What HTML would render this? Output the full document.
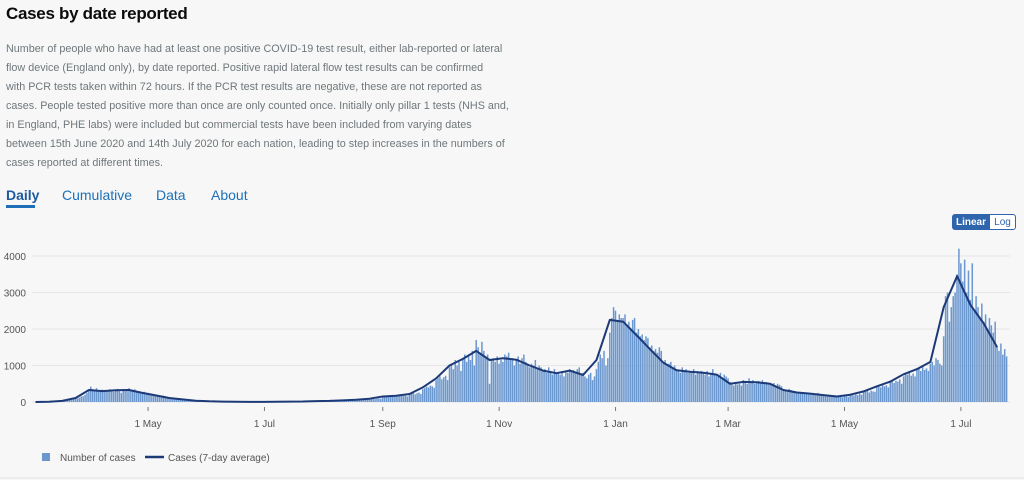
<!DOCTYPE html>
<html><head><meta charset="utf-8">
<style>
body{margin:0;width:1024px;height:480px;background:#f7f7f7;font-family:"Liberation Sans",sans-serif;overflow:hidden;position:relative}
h1{position:absolute;left:6px;top:4px;margin:0;font-size:17px;font-weight:bold;color:#0b0c0c;letter-spacing:-0.3px}
.desc{position:absolute;left:6px;top:40px;font-size:10.8px;line-height:19px;color:#6f777b}
.desc div{white-space:nowrap}
.tab{position:absolute;top:187px;font-size:14px;color:#1d70b8}
.tab.active{color:#1d5aa0;font-weight:bold}
#underline{position:absolute;left:6px;top:205px;width:29px;height:3px;background:#1d70b8}
.toggle{position:absolute;top:214px;height:16px;font-size:10px;line-height:16px;text-align:center;border:1px solid #2f65ad;box-sizing:border-box}
</style></head><body>
<h1>Cases by date reported</h1>
<div class="desc">
<div>Number of people who have had at least one positive COVID-19 test result, either lab-reported or lateral</div>
<div>flow device (England only), by date reported. Positive rapid lateral flow test results can be confirmed</div>
<div>with PCR tests taken within 72 hours. If the PCR test results are negative, these are not reported as</div>
<div>cases. People tested positive more than once are only counted once. Initially only pillar 1 tests (NHS and,</div>
<div>in England, PHE labs) were included but commercial tests have been included from varying dates</div>
<div>between 15th June 2020 and 14th July 2020 for each nation, leading to step increases in the numbers of</div>
<div>cases reported at different times.</div>
</div>
<div class="tab active" style="left:6px">Daily</div>
<div id="underline"></div>
<div class="tab" style="left:62px">Cumulative</div>
<div class="tab" style="left:156px">Data</div>
<div class="tab" style="left:211px">About</div>
<div class="toggle" style="left:952px;width:38px;background:#2f65ad;color:#fff;font-weight:bold;border-radius:3px 0 0 3px">Linear</div>
<div class="toggle" style="left:989px;width:27px;background:#fff;color:#2f65ad;border-radius:0 3px 3px 0">Log</div>
<svg id="chart" width="1024" height="480" style="position:absolute;left:0;top:0"></svg>
<script>
const yTicks=[0,1000,2000,3000,4000];
const xTickDays=[59,120,182,243,304,363,424,485];
const xTickLabels=["1 May","1 Jul","1 Sep","1 Nov","1 Jan","1 Mar","1 May","1 Jul"];
const avgWeekly=[0,5,30,110,330,300,320,330,250,180,110,70,35,20,10,5,3,3,5,10,15,25,30,45,60,90,150,170,220,400,650,1000,1180,1400,1150,1200,1160,1000,860,790,860,740,1150,2250,2200,1830,1450,1080,870,830,800,750,500,550,540,500,330,260,230,190,150,200,290,430,560,760,900,1100,2600,3450,2660,2150,1500];
const dailyCases=[
2,3,4,5,5,6,8, 10,12,15,10,18,20,25, 30,35,40,45,50,60,70, 80,100,120,150,160,200,250,
300,420,350,330,380,300,280, 340,310,300,290,350,310,280, 330,360,300,250,350,330,310, 380,320,300,350,310,270,290,
260,280,240,250,220,230,210, 200,190,180,170,175,160,150, 130,120,110,110,100,95,90, 80,75,70,70,65,60,55,
45,40,38,35,32,30,28, 25,22,20,20,18,16,15, 12,12,10,10,9,8,8, 6,6,5,5,5,4,4,
3,3,3,3,3,3,3, 3,3,3,4,3,3,3, 5,5,5,6,5,5,6, 8,10,10,12,10,9,11,
14,15,16,15,14,17,16, 22,25,24,26,28,25,23, 30,32,28,30,34,29,31, 42,45,48,40,46,50,44,
58,62,55,60,65,58,62, 85,90,95,80,92,100,88, 130,150,160,140,170,155,145, 160,180,170,190,165,175,150,
200,230,250,210,240,260,220, 350,380,420,400,450,430,390, 600,650,700,620,680,720,600, 950,1050,900,1150,1000,1100,850,
1200,1300,1100,1250,1150,1400,1000, 1700,1500,1350,1650,1400,1250,1300, 500,1150,1200,1100,1250,1050,1150, 1100,1300,1250,1350,1150,1200,1000,
1150,1250,1050,1200,1300,1100,1050, 950,1050,1000,1150,900,1000,950, 850,900,800,950,850,750,900, 780,800,750,850,700,820,800,
900,850,880,820,900,950,750, 800,700,650,750,800,600,700, 900,1100,1300,1200,1400,1000,1200, 1900,2300,2600,2500,2200,2400,2300,
2300,2400,2100,2200,2000,2250,2300, 1900,2000,1800,1850,1700,1800,1750, 1500,1550,1400,1450,1350,1500,1400, 1100,1150,1000,1050,1100,950,1000,
900,850,800,950,850,900,800, 850,800,900,750,850,800,850, 800,750,850,700,800,900,750, 750,700,800,650,750,700,650,
550,500,450,520,480,500,450, 600,550,500,650,550,600,500, 550,580,520,600,500,550,520, 500,480,520,450,500,470,430,
350,320,300,360,330,310,300, 280,260,250,270,240,260,250, 240,220,230,210,250,220,210, 200,190,180,200,170,190,180,
150,140,160,130,150,160,140, 200,220,180,210,190,230,200, 300,280,320,260,310,290,280, 420,450,400,480,430,460,400,
550,600,520,580,560,620,500, 700,800,750,850,720,780,700, 900,950,850,1000,880,920,850, 1050,1100,1000,1200,1150,1050,1000,
1800,2900,3000,2200,2600,2900,3000, 3500,4200,3800,3300,3900,3000,3600, 2800,3800,2500,2900,2600,2300,2700, 2200,2400,2000,2300,2100,1900,2200,
1500,1400,1600,1300,1450,1250];
const NS='http://www.w3.org/2000/svg';
const svg=document.getElementById('chart');
const x0=35.5,dayW=1.908,y0=402,pxPer=0.0365;
function xs(d){return x0+d*dayW;}
function ys(v){return y0-v*pxPer;}
function mk(t,a){const e=document.createElementNS(NS,t);for(const k in a)e.setAttribute(k,a[k]);svg.appendChild(e);return e;}
yTicks.forEach(v=>{
  const g=mk('line',{x1:32,x2:1010,y1:ys(v),y2:ys(v),stroke:'#e6e6e6','stroke-width':1});
  
  
  const t=mk('text',{x:26,y:ys(v)+4,'text-anchor':'end','font-size':10,fill:'#555','font-family':'Liberation Sans, sans-serif'});
  t.textContent=v;
  
  
});
dailyCases.forEach((v,i)=>{
  const r=mk('rect',{x:xs(i)-0.8,y:ys(v),width:1.5,height:v*pxPer,fill:'#6b97cf'});
  
  
});
const pts=avgWeekly.map((v,w)=>xs(w*7).toFixed(1)+','+ys(v).toFixed(1)).join(' ');
const pl=mk('polyline',{points:pts,fill:'none',stroke:'#1d3a78','stroke-width':2,'stroke-linejoin':'round'});


xTickLabels.forEach((l,i)=>{
  const x=xs(xTickDays[i]);
  const tk=mk('line',{x1:x,x2:x,y1:407,y2:411,stroke:'#777','stroke-width':1});
  
  
  const t=mk('text',{x:x,y:427,'text-anchor':'middle','font-size':10,fill:'#555','font-family':'Liberation Sans, sans-serif'});
  t.textContent=l;
  
  
});
const lg1=mk('rect',{x:42,y:453,width:8,height:8,fill:'#6b97cf'});


const lt1=mk('text',{x:60,y:461,'font-size':10,fill:'#555','font-family':'Liberation Sans, sans-serif'});
lt1.textContent='Number of cases';


const lg2=mk('line',{x1:145,x2:164,y1:457,y2:457,stroke:'#1d3a78','stroke-width':2.5});


const lt2=mk('text',{x:168,y:461,'font-size':10,fill:'#555','font-family':'Liberation Sans, sans-serif'});
lt2.textContent='Cases (7-day average)';


const bl=mk('line',{x1:0,x2:1024,y1:478,y2:478,stroke:'#e0e0e0','stroke-width':1});


</script>
</body></html>
